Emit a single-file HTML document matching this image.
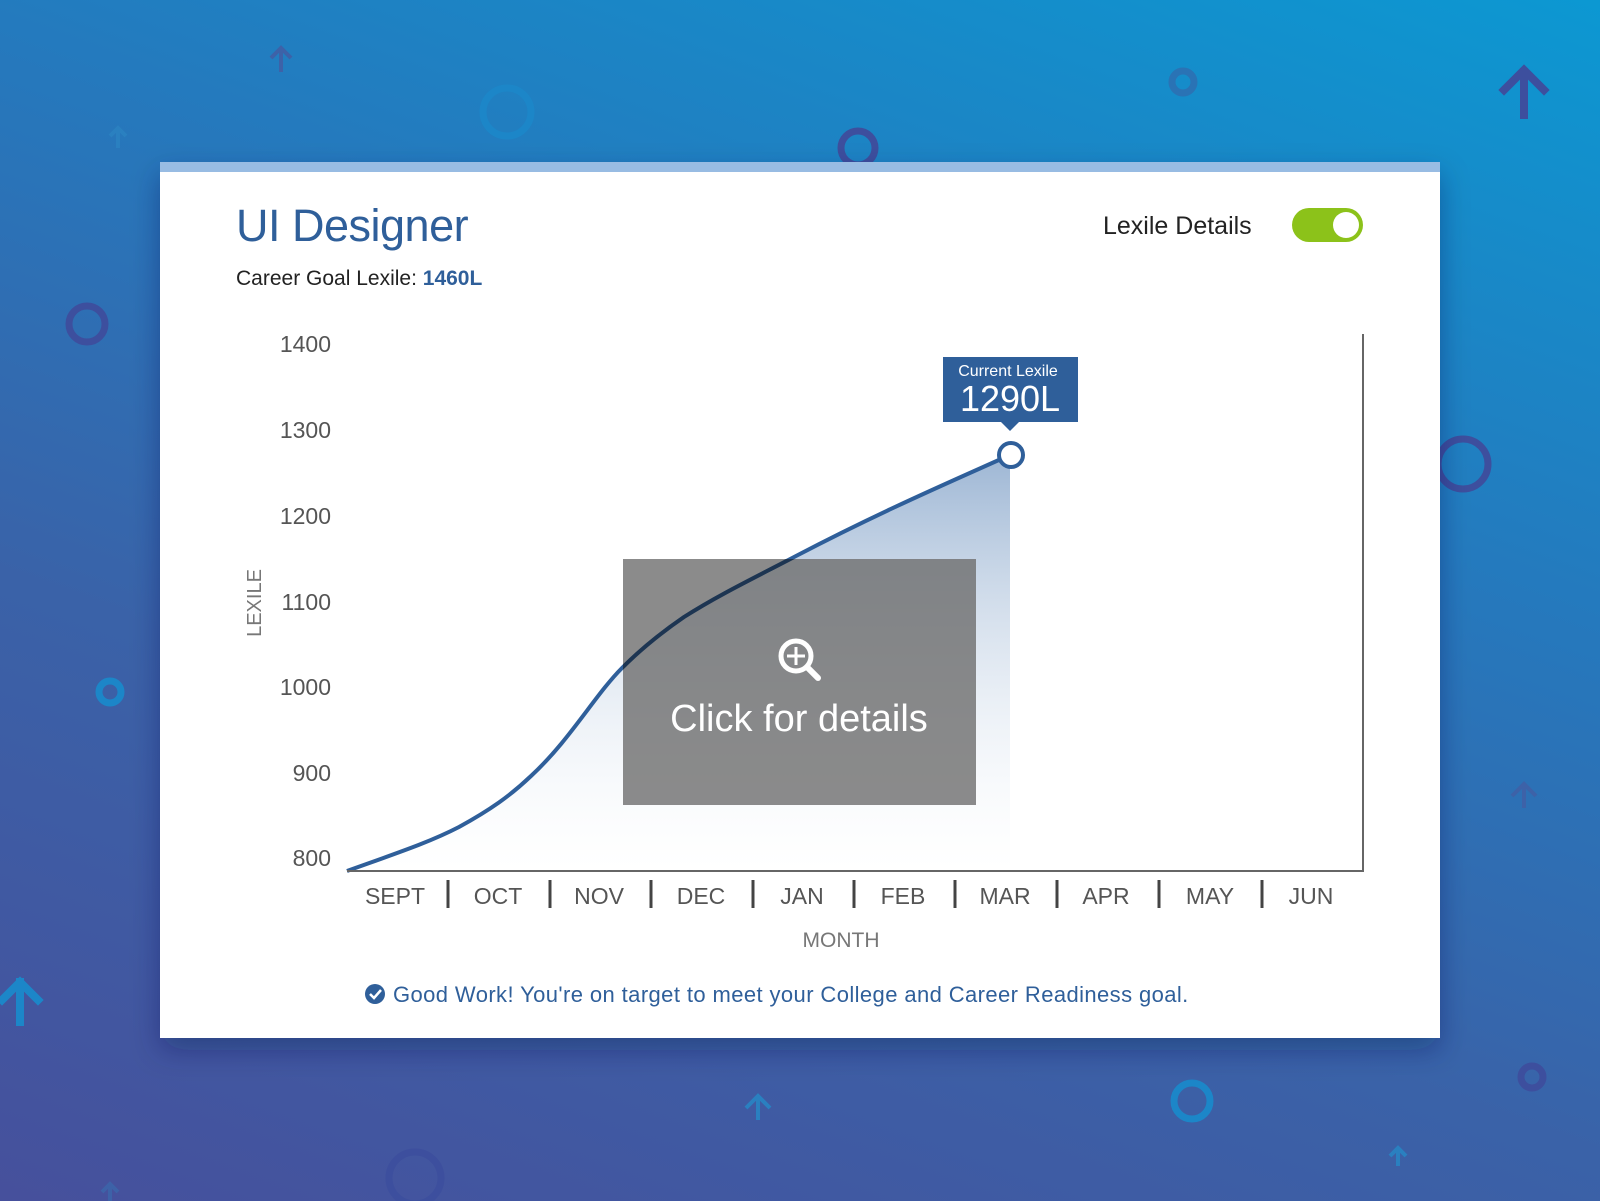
<!DOCTYPE html>
<html><head><meta charset="utf-8"><style>
body{margin:0;width:1600px;height:1201px;overflow:hidden;font-family:"Liberation Sans",sans-serif;}
.bg{position:absolute;left:0;top:0;width:1600px;height:1201px;background:linear-gradient(20deg,#46509c 0%,#3a62a8 35%,#2579bd 65%,#0c98d2 100%);}
</style></head><body>
<div class="bg"></div>
<svg width="1600" height="1201" style="position:absolute;left:0;top:0">
<defs>
<linearGradient id="fg" x1="0" y1="0" x2="0" y2="1">
<stop offset="0" stop-color="#9db6d4"/><stop offset="1" stop-color="#ffffff" stop-opacity="0.2"/>
</linearGradient>
<filter id="sh" x="-10%" y="-10%" width="120%" height="130%"><feDropShadow dx="0" dy="12" stdDeviation="14" flood-color="#102050" flood-opacity="0.35"/></filter>
<clipPath id="bx"><rect x="623" y="559" width="353" height="246"/></clipPath>
</defs>
<g fill="none" stroke-width="7">
<circle cx="507" cy="112" r="24" stroke="#1c86c8"/>
<circle cx="858" cy="148" r="17" stroke="#3d4f9e"/>
<circle cx="1183" cy="82" r="11" stroke="#2a73b5"/>
<circle cx="87" cy="324" r="18" stroke="#3d4f9e"/>
<circle cx="110" cy="692" r="11" stroke="#1c86c8"/>
<circle cx="1463" cy="464" r="25" stroke="#3d4f9e"/>
<circle cx="1192" cy="1101" r="18" stroke="#1c86c8"/>
<circle cx="1532" cy="1077" r="11" stroke="#3d4f9e"/>
<circle cx="415" cy="1178" r="26" stroke="#3d4f9e"/>
</g>
<g fill="none" stroke-width="8" stroke-linecap="square">
<path d="M1524 115 V72 M1504 90 L1524 70 L1544 90" stroke="#3d4f9e"/>
<path d="M20 1022 V982 M2 1000 L20 982 L38 1000" stroke="#1c86c8"/>
</g>
<g fill="none" stroke-width="4">
<path d="M281 72 V48 M271 58 L281 48 L291 58" stroke="#3d62a8"/>
<path d="M118 148 V128 M110 136 L118 128 L126 136" stroke="#2a80c0"/>
<path d="M1524 808 V784 M1512 796 L1524 784 L1536 796" stroke="#3d62a8"/>
<path d="M758 1120 V1096 M746 1108 L758 1096 L770 1108" stroke="#2a80c0"/>
<path d="M1398 1166 V1148 M1390 1156 L1398 1148 L1406 1156" stroke="#2a80c0"/>
<path d="M110 1201 V1184 M102 1192 L110 1184 L118 1192" stroke="#3d62a8"/>
</g>
<rect x="160" y="162" width="1280" height="876" fill="#fff" filter="url(#sh)"/>
<rect x="160" y="162" width="1280" height="10" fill="#98bce3"/>
<text x="236" y="241" font-size="45" fill="#2f5f9a" letter-spacing="-0.5">UI Designer</text>
<text x="236" y="285" font-size="21" fill="#222">Career Goal Lexile: <tspan fill="#2f5f9a" font-weight="bold">1460L</tspan></text>
<text x="1103" y="234" font-size="25" fill="#222">Lexile Details</text>
<rect x="1292" y="208" width="71" height="34" rx="17" fill="#8cc21a"/>
<circle cx="1346" cy="225" r="13" fill="#fff"/>
<g font-size="23" fill="#555" text-anchor="end">
<text x="331" y="352">1400</text><text x="331" y="438">1300</text><text x="331" y="524">1200</text>
<text x="331" y="610">1100</text><text x="331" y="695">1000</text><text x="331" y="781">900</text><text x="331" y="866">800</text>
</g>
<text transform="translate(261,603) rotate(-90)" font-size="20" fill="#777" text-anchor="middle">LEXILE</text>
<path d="M347 871 C400 852 430 842 459 827 C490 810 510 796 531 776 C570 740 595 695 622 668 C645 645 665 630 684 617 C720 594 760 575 796 556 C880 512 950 482 1010 455 L1010 871 Z" fill="url(#fg)"/>
<path d="M347 871 C400 852 430 842 459 827 C490 810 510 796 531 776 C570 740 595 695 622 668 C645 645 665 630 684 617 C720 594 760 575 796 556 C880 512 950 482 1010 455" fill="none" stroke="#2f5f9a" stroke-width="4"/>
<path d="M347 871 H1363 V334" fill="none" stroke="#666" stroke-width="2"/>
<g stroke="#444" stroke-width="3">
<line x1="448" y1="880" x2="448" y2="908"/><line x1="550" y1="880" x2="550" y2="908"/><line x1="651" y1="880" x2="651" y2="908"/>
<line x1="753" y1="880" x2="753" y2="908"/><line x1="854" y1="880" x2="854" y2="908"/><line x1="955" y1="880" x2="955" y2="908"/>
<line x1="1057" y1="880" x2="1057" y2="908"/><line x1="1159" y1="880" x2="1159" y2="908"/><line x1="1262" y1="880" x2="1262" y2="908"/>
</g>
<g font-size="23" fill="#555" text-anchor="middle">
<text x="395" y="904">SEPT</text><text x="498" y="904">OCT</text><text x="599" y="904">NOV</text><text x="701" y="904">DEC</text>
<text x="802" y="904">JAN</text><text x="903" y="904">FEB</text><text x="1005" y="904">MAR</text><text x="1106" y="904">APR</text>
<text x="1210" y="904">MAY</text><text x="1311" y="904">JUN</text>
</g>
<text x="841" y="947" font-size="21" fill="#777" text-anchor="middle">MONTH</text>
<rect x="623" y="559" width="353" height="246" fill="#6e6e6e" fill-opacity="0.8"/>
<path clip-path="url(#bx)" d="M531 776 C570 740 595 695 622 668 C645 645 665 630 684 617 C720 594 760 575 796 556 C880 512 950 482 1010 455" fill="none" stroke="#1d3552" stroke-width="4"/>
<circle cx="796" cy="656" r="15" fill="none" stroke="#fff" stroke-width="5"/>
<path d="M787 656 H805 M796 647 V665" stroke="#fff" stroke-width="3"/>
<path d="M807 667 L818 678" stroke="#fff" stroke-width="6" stroke-linecap="round"/>
<text x="799" y="731" font-size="38" fill="#fff" text-anchor="middle">Click for details</text>
<rect x="943" y="357" width="135" height="65" fill="#2f5f9a"/>
<path d="M1001 422 L1010 431 L1019 422 Z" fill="#2f5f9a"/>
<text x="1008" y="376" font-size="16" fill="#fff" text-anchor="middle">Current Lexile</text>
<text x="1010" y="411" font-size="36" fill="#fff" text-anchor="middle">1290L</text>
<circle cx="1011" cy="455" r="12" fill="#fff" stroke="#2f5f9a" stroke-width="4"/>
<circle cx="375" cy="994" r="10" fill="#2f5f9a"/>
<path d="M370 994 L374 998 L381 990" fill="none" stroke="#fff" stroke-width="2.5"/>
<text x="393" y="1002" font-size="22" fill="#2f5f9a" letter-spacing="0.4">Good Work! You're on target to meet your College and Career Readiness goal.</text>
</svg>
</body></html>
